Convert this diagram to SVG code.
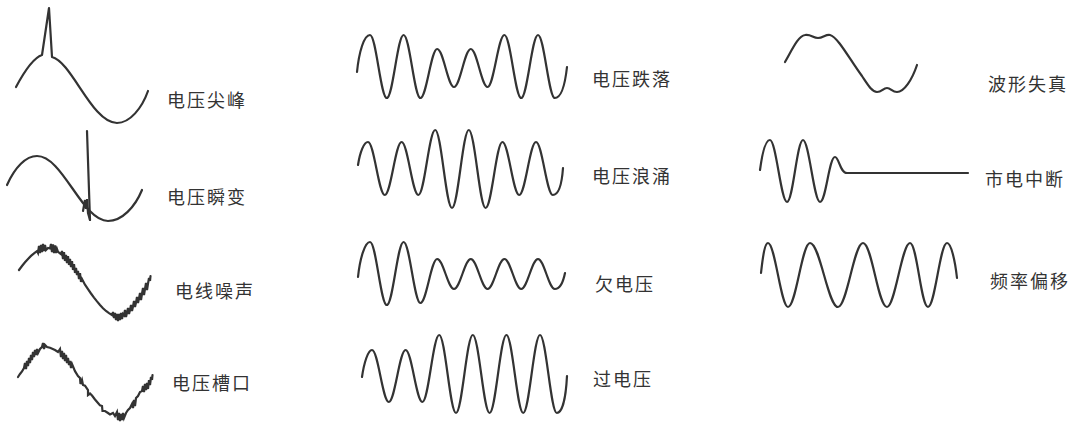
<svg xmlns="http://www.w3.org/2000/svg" width="1074" height="424" viewBox="0 0 1074 424">
<style>
.w{fill:none;stroke:#333;stroke-width:2.2;stroke-linejoin:round;stroke-linecap:round}
.n{fill:none;stroke:#333;stroke-width:2.2;stroke-linejoin:miter;stroke-linecap:round}
.t{font-family:"Noto Sans CJK SC","Noto Sans CJK JP",sans-serif;font-size:18px;letter-spacing:2px;fill:#333;dominant-baseline:central}
</style>
<rect width="1074" height="424" fill="#fff"/>

<g id="spike">
<path class="w" d="M16,87 C24,72 33,58 42,55 L49,8 L52,57 C72,62 92,123 117,123 C130,123 142,108 148,91"/>
<text class="t" x="167" y="99">电压尖峰</text>
</g>

<g id="transient">
<path class="w" d="M7,185 C15,167 26,156 37,156 C63,156 82,221 108,221 C122,221 135,207 142,190"/>
<path class="w" d="M87,131 L90,220"/>
<path class="n" d="M83,211 L85,200 L86,209 L87,199 L88,213 L90,220"/>
<text class="t" x="167" y="196">电压瞬变</text>
</g>

<g id="noise">
<polyline class="n" points="19,270 22,266 25,262.3 28,258.9 31,255.9 34,253.3 37,251.1 38,253 39,246 40,253 41,245 42,252 43,244 44,251 45,245 46,250 48,248 50,248.5 51,244 52,252 53,244.5 54,253 55,245.5 56,253 57,249 58,251.8 61,254.1 62,251 63,259 64,252 65,261 66,255 67,263 68,256 69,265 70,259 71,267 72,261 73,270 74,264 75,273 76,268 77,275 78,271 79,279 80,273 81,282 82,279 85,284.7 88,289.2 91,293.5 94,297.6 97,301.4 100,305 103,308.2 106,311 109,313.2 112,315 113,312 114,318 115,313 116,320 117,314 118,321 119,314 120,320 121,313 122,319 123,314 124,315.2 125,310 126,317 127,312.8 128,308 129,314 130,309.9 131,305 132,311 133,306.5 134,301 135,307 136,302.6 137,297 138,303 139,298.4 140,293 141,300 142,293.8 143,288 144,295 145,288.9 146,283 147,290 148,283.6 149,278 150,281 150.5,276"/>
<text class="t" x="175" y="290">电线噪声</text>
</g>

<g id="notch">
<polyline class="n" points="18,377 20,374 22,371.5 24,368 25,363 26,369 27,361 28,366 29,358 30,363 31,355 32,360 33,352 34,357 35,350 36,355 37,349 38,353 40,349 42,347 43,343 44,349 45,345 47,347 50,347.8 55,350 58,352 60,349 61,357 62,351 63,359 64,353 65,361 66,355 67,363 68,358 69,365 70,361 71,368 72,364 75,371.2 78,376 80,378 80.5,384 82,380 83,385 85,385.7 88,390 88,395 90,393.5 92,395.5 95,399.5 98,403 100,405.4 102,406 102.5,411 105,411 108,413 110,414.5 113,413 115,416 117,412 118,420 119,413 120,421 121,414 122,420 123,413 124,418 126,413 128,410 130,408 132,404 133,408 134,400 135,406 136,398 138,396 140,392 142,391 143,386 144,392 145,384 146,390 147,383 148,389 149,380 150,385 151,377 152,380 152.5,375"/>
<text class="t" x="172" y="382">电压槽口</text>
</g>

<g id="sag">
<path class="w" d="M357,72 C359,52 364,35 370,35 C376.1,35 380.7,98 386.8,98 C392.9,98 397.5,35 403.6,35 C409.7,35 414.3,98 420.4,98 C426.5,98 431.1,49 437.2,49 C443.3,49 447.9,87 454,87 C460.1,87 464.7,49 470.8,49 C476.9,49 481.5,87 487.6,87 C493.7,87 498.3,35 504.4,35 C510.5,35 515.1,98 521.2,98 C527.3,98 531.9,35 538,35 C544.1,35 548.7,98 554.8,98 C561,98 565,85 567,67"/>
<text class="t" x="592" y="78">电压跌落</text>
</g>

<g id="surge">
<path class="w" d="M358,165 C360,152 364,142 368,142 C374.1,142 378.7,195 384.8,195 C390.9,195 395.5,142 401.6,142 C407.7,142 412.3,195 418.4,195 C424.5,195 429.1,130 435.2,130 C441.3,130 445.9,208 452,208 C458.1,208 462.7,130 468.8,130 C474.9,130 479.5,208 485.6,208 C491.7,208 496.3,142 502.4,142 C508.5,142 513.1,195 519.2,195 C525.3,195 529.9,142 536,142 C542.1,142 546.7,195 552.8,195 C559,195 562,182 563,168"/>
<text class="t" x="592" y="175">电压浪涌</text>
</g>

<g id="undervoltage">
<path class="w" d="M358,277 C360,258 365,242 370,242 C376.1,242 380.7,305 386.8,305 C392.9,305 397.5,242 403.6,242 C409.7,242 414.3,303 420.4,303 C426.5,303 431.1,259 437.2,259 C443.3,259 447.9,289 454,289 C460.1,289 464.7,259 470.8,259 C476.9,259 481.5,289 487.6,289 C493.7,289 498.3,259 504.4,259 C510.5,259 515.1,289 521.2,289 C527.3,289 531.9,259 538,259 C544.1,259 548.7,289 554.8,289 C560,289 563,283 565,273"/>
<text class="t" x="595" y="283">欠电压</text>
</g>

<g id="overvoltage">
<path class="w" d="M362,377 C364,363 368,350 372,350 C378.1,350 382.7,402 388.8,402 C394.9,402 399.5,350 405.6,350 C411.7,350 416.3,402 422.4,402 C428.5,402 433.1,335 439.2,335 C445.3,335 449.9,413 456,413 C462.1,413 466.7,335 472.8,335 C478.9,335 483.5,413 489.6,413 C495.7,413 500.3,335 506.4,335 C512.5,335 517.1,413 523.2,413 C529.3,413 533.9,335 540,335 C546.1,335 550.7,413 556.8,413 C563,413 566,395 567,376"/>
<text class="t" x="593" y="378">过电压</text>
</g>

<g id="distortion">
<path class="w" d="M785,62 C792,50 798,36 805,35 C811,34 813,38 818,38 C823,38 826,34 830,35 C838,37 850,60 862,76 C868,85 872,92 877,92 C882,92 883,88 887,88 C891,88 892,92 897,92 C904,92 912,80 917,65"/>
<text class="t" x="988" y="83">波形失真</text>
</g>

<g id="outage">
<path class="w" d="M760,170 C762,155 765,140 770,140 C776,140 781,202 787,202 C793,202 797,140 803,140 C809,140 814,202 820,202 C826,202 829,157 835,157 C839,157 840,173 847,173 L968,173"/>
<text class="t" x="985" y="178">市电中断</text>
</g>

<g id="frequency">
<path class="w" d="M761,273 C763,255 765,243 768,243 C775,243 781,307 788,307 C796,307 802,243 810,243 C820,243 828,307 838,307 C847,307 854,243 863,243 C872,243 878,307 887,307 C895,307 902,243 910,243 C917,243 921,307 928,307 C935,307 940,243 947,243 C951,243 955,260 957,278"/>
<text class="t" x="990" y="280">频率偏移</text>
</g>
</svg>
